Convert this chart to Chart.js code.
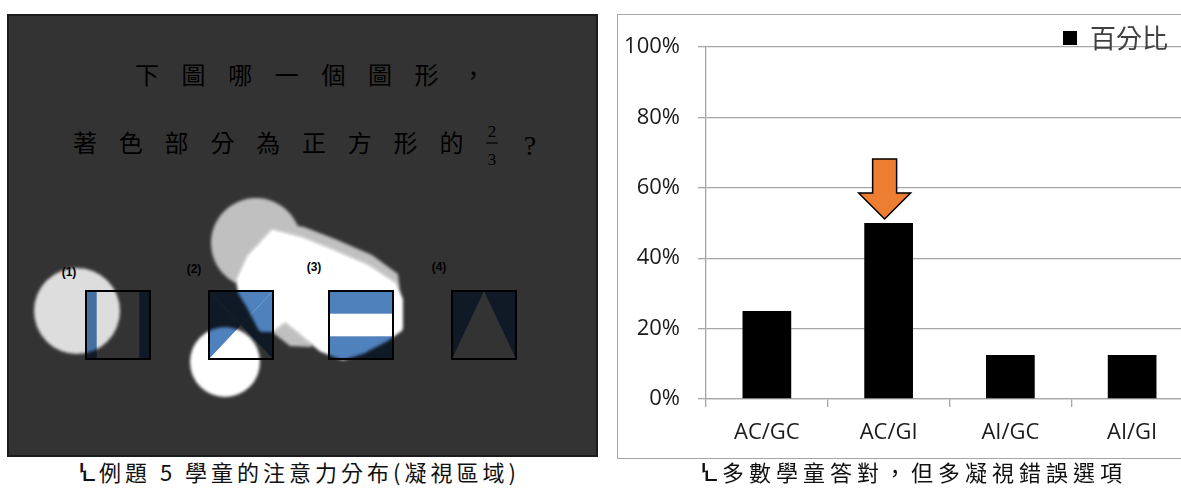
<!DOCTYPE html>
<html>
<head>
<meta charset="utf-8">
<script src="https://cdn.jsdelivr.net/npm/chart.js@4.4.1/dist/chart.umd.min.js"></script>
<style>
html, body { margin: 0; padding: 0; background: #fff; overflow: hidden; }
#stage { position: relative; width: 1181px; height: 490px; overflow: hidden; }
#heat { position: absolute; left: 0; top: 0; }
#chartBox { position: absolute; left: 617px; top: 14px; width: 600px; height: 445px; border: 1px solid #a6a6a6; box-sizing: border-box; }
#chartWrap { position: absolute; left: 0; top: 0; width: 575px; height: 443px; }
.cap { position: absolute; top: 460px; font-family: "Noto Sans CJK TC", sans-serif; font-size: 22px; line-height: 22px; color: #111; white-space: nowrap; }
.mark { font-family: "DejaVu Sans", sans-serif; font-size: 25px; }
</style>
</head>
<body>
<div id="stage">

  <!-- left: gaze heat map screenshot -->
  <svg id="heat" width="600" height="460" viewBox="0 0 600 460">
    <defs>
      <filter id="soft" x="-20%" y="-20%" width="140%" height="140%">
        <feGaussianBlur stdDeviation="1.4"/>
      </filter>
      <mask id="dim" maskUnits="userSpaceOnUse" x="0" y="0" width="600" height="460">
        <rect x="0" y="0" width="600" height="460" fill="#fff"/>
        <g filter="url(#soft)">
          <circle cx="77" cy="311" r="43" fill="rgb(43,43,43)"/>
          <circle cx="256" cy="243" r="45" fill="rgb(79,79,79)"/>
          <!-- grey rim above the bright patch and the stub between (2) and (3) -->
          <polygon points="276,222 304,227 335,239 372,255 398,274 401,300 360,300 300,270 262,262" fill="rgb(79,79,79)"/>
          <polygon points="270,300 300,302 312,347 290,346 272,332" fill="rgb(79,79,79)"/>
          <polygon points="273,233 300,240 330,252 367,268 393,285 399,300 399,328 385,338 362,350 343,356 322,348 300,330 285,318 272,328 262,328 250,305 242,292 240,280 250,258"
                   fill="#000" stroke="#000" stroke-width="8" stroke-linejoin="round"/>
          <circle cx="225" cy="362" r="35" fill="#000"/>
        </g>
      </mask>
    </defs>

    <rect x="8" y="15" width="589" height="441" fill="#fff"/>

    <g font-family="Noto Sans CJK TC" fill="#000">
      <text x="135" y="84" font-size="24" letter-spacing="22.6">下圖哪一個圖形，</text>
      <text x="73" y="152" font-size="24" letter-spacing="21.8">著色部分為正方形的</text>
      <text x="492" y="137" font-size="17" text-anchor="middle" font-family="Liberation Serif">2</text>
      <line x1="486" y1="143" x2="498" y2="143" stroke="#000" stroke-width="1.2"/>
      <text x="492" y="165" font-size="17" text-anchor="middle" font-family="Liberation Serif">3</text>
      <text x="530" y="155" font-size="28" text-anchor="middle" font-family="Liberation Serif">?</text>
    </g>

    <g font-family="Liberation Sans" font-weight="bold" font-size="12" fill="#000" text-anchor="middle">
      <text x="69" y="276">(1)</text>
      <text x="194" y="273">(2)</text>
      <text x="314" y="271">(3)</text>
      <text x="439" y="271">(4)</text>
    </g>

    <g fill="#4f81bd">
      <!-- (1) two vertical strips -->
      <rect x="86" y="291" width="10.7" height="68"/>
      <rect x="139.3" y="291" width="10.7" height="68"/>
      <!-- (2) three triangles -->
      <polygon points="209,291 209,359 241,325"/>
      <polygon points="209,291 273,291 241,325"/>
      <polygon points="273,291 273,359 241,325"/>
      <!-- (3) top and bottom bands -->
      <rect x="329" y="291" width="64" height="22.7"/>
      <rect x="329" y="336.3" width="64" height="22.7"/>
      <!-- (4) two side triangles -->
      <polygon points="452,291 452,359 484,291"/>
      <polygon points="516,291 516,359 484,291"/>
    </g>
    <g fill="none" stroke="#000" stroke-width="2">
      <rect x="86" y="291" width="64" height="68"/>
      <rect x="209" y="291" width="64" height="68"/>
      <rect x="329" y="291" width="64" height="68"/>
      <rect x="452" y="291" width="64" height="68"/>
    </g>

    <rect x="8" y="15" width="589" height="441" fill="#000" fill-opacity="0.8" mask="url(#dim)"/>
    <rect x="8" y="15" width="589" height="441" fill="none" stroke="#1c1c1c" stroke-width="2"/>
  </svg>

  <div class="cap" style="left:78px; letter-spacing:4px;"><span class="mark">Ꝇ</span>例題 5 學童的注意力分布(凝視區域)</div>

  <div id="chartBox">
    <div id="chartWrap"><canvas id="bar-chart"></canvas></div>
  </div>

  <div class="cap" style="left:700px; letter-spacing:5px;"><span class="mark">Ꝇ</span>多數學童答對，但多凝視錯誤選項</div>
</div>

<script>
// ---------- data ----------
const categories = ['AC/GC', 'AC/GI', 'AI/GC', 'AI/GI'];
const shares = [0.25, 0.50, 0.125, 0.125];
const seriesName = '百分比';
const yTickLabels = ['0%', '20%', '40%', '60%', '80%', '100%'];
const highlightIndex = 1;

const tickFont = { family: 'Open Sans', size: 22 };

// orange arrow pointing at the highlighted bar
const arrowPlugin = {
    id: 'arrow',
    afterDatasetsDraw(chart) {
        const bar = chart.getDatasetMeta(0).data[highlightIndex];
        if (!bar) return;
        const ctx = chart.ctx;
        const cx = bar.x - 4;
        const tip = bar.y - 4;
        ctx.save();
        ctx.beginPath();
        ctx.moveTo(cx - 12, tip - 60);
        ctx.lineTo(cx + 12, tip - 60);
        ctx.lineTo(cx + 12, tip - 26);
        ctx.lineTo(cx + 26, tip - 26);
        ctx.lineTo(cx, tip);
        ctx.lineTo(cx - 26, tip - 26);
        ctx.lineTo(cx - 12, tip - 26);
        ctx.closePath();
        ctx.fillStyle = '#ed7d31';
        ctx.fill();
        ctx.lineWidth = 1.5;
        ctx.strokeStyle = '#000';
        ctx.stroke();
        ctx.restore();
    }
};

// move the in-plot legend to the upper right corner
const legendPlace = {
    id: 'legendPlace',
    afterLayout(chart) {
        const lg = chart.legend;
        if (!lg || !lg.legendHitBoxes || !lg.legendHitBoxes.length) return;
        const pad = lg.options.labels.padding;
        const w = lg.legendHitBoxes[0].width;
        const left = chart.chartArea.right - 25 - w - pad;
        const dx = left - lg.left;
        lg.left += dx;
        lg.right += dx;
    }
};

new Chart(document.getElementById('bar-chart').getContext('2d'), {
    type: 'bar',
    data: {
        labels: categories,
        datasets: [{
            label: seriesName,
            data: shares,
            backgroundColor: '#000',
            borderWidth: 0,
            barPercentage: 0.5,
            categoryPercentage: 0.8
        }]
    },
    options: {
        responsive: true,
        maintainAspectRatio: false,
        animation: false,
        layout: { padding: { top: 32, left: 0, right: 0, bottom: 0 } },
        plugins: {
            tooltip: { enabled: false },
            legend: {
                position: 'chartArea',
                align: 'start',
                labels: {
                    boxWidth: 14,
                    boxHeight: 14,
                    padding: 10,
                    color: '#404040',
                    font: { family: 'Noto Sans CJK TC', size: 26 }
                }
            }
        },
        scales: {
            x: {
                ticks: { padding: 13, color: '#1a1a1a', font: tickFont },
                grid: { drawOnChartArea: false, drawTicks: true, tickLength: 8, color: '#a6a6a6', lineWidth: 1.3 },
                border: { display: true, color: '#a6a6a6', width: 1.3 },
                afterFit(scale) { scale.height = 59; }
            },
            y: {
                min: 0,
                max: 1,
                ticks: {
                    stepSize: 0.2,
                    padding: 18,
                    color: '#1a1a1a',
                    font: tickFont,
                    callback: (v, i) => yTickLabels[i]
                },
                grid: { color: '#a6a6a6', lineWidth: 1.3, tickLength: 8 },
                border: { display: true, color: '#a6a6a6', width: 1.3 },
                afterFit(scale) { scale.width = 88; }
            }
        }
    },
    plugins: [arrowPlugin, legendPlace]
});
</script>
</body>
</html>
